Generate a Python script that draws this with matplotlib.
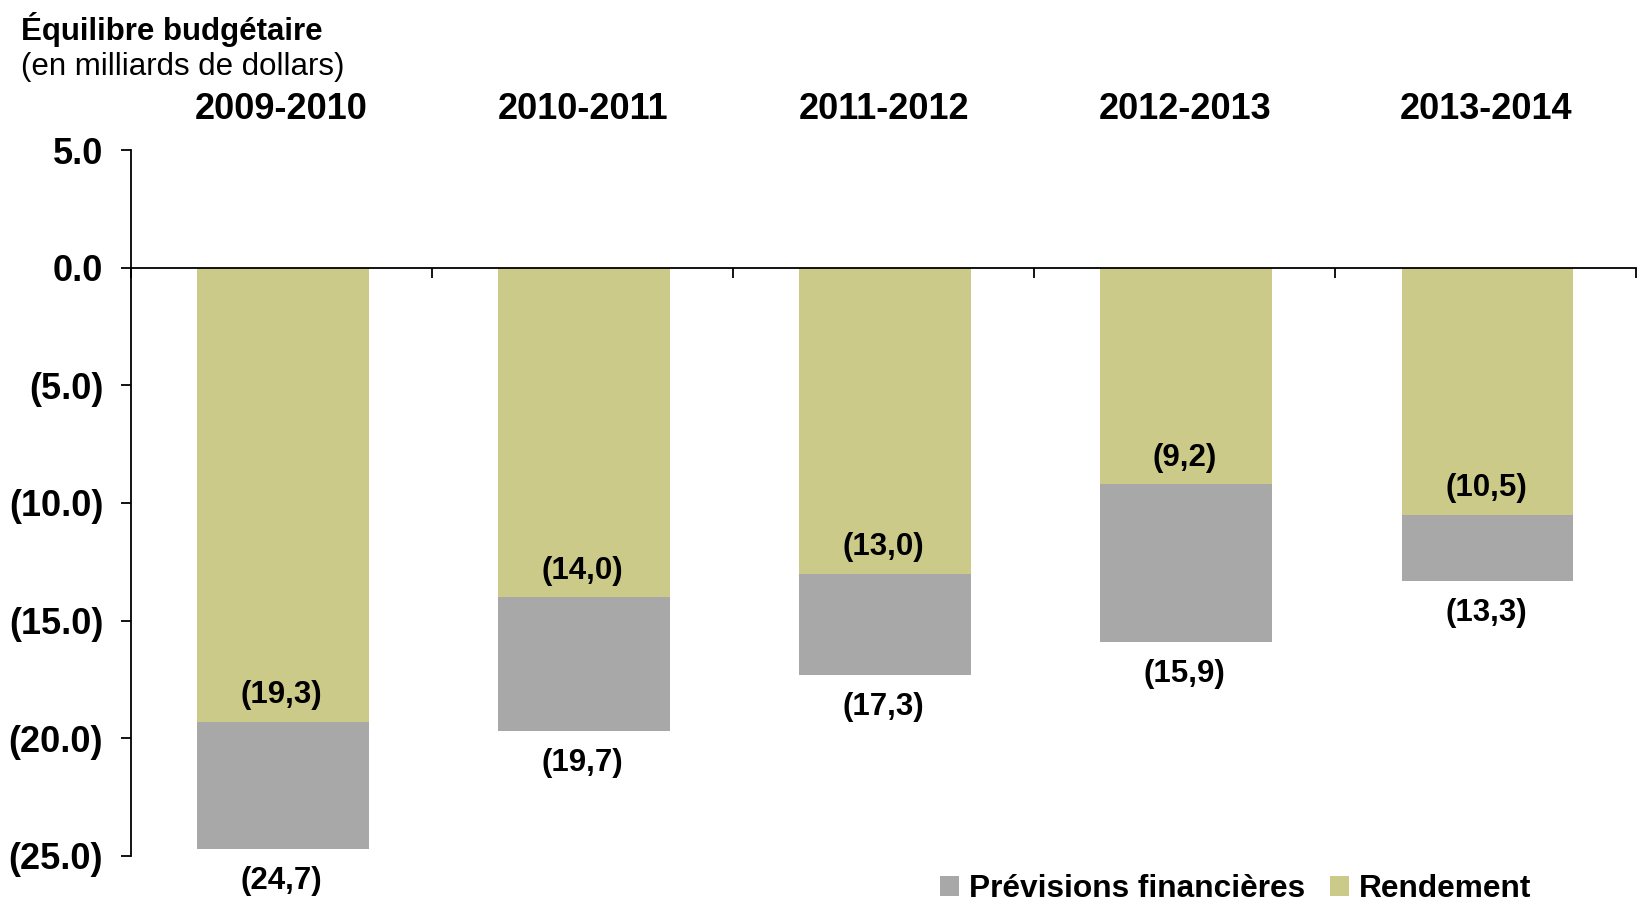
import matplotlib
matplotlib.use("Agg")
import matplotlib.pyplot as plt
from matplotlib.patches import Patch
import matplotlib.transforms as mtransforms

plt.rcParams['font.family'] = ['Liberation Sans', 'DejaVu Sans']

categories = ["2009-2010", "2010-2011", "2011-2012", "2012-2013", "2013-2014"]
rendement = [-19.3, -14.0, -13.0, -9.2, -10.5]
previsions = [-24.7, -19.7, -17.3, -15.9, -13.3]
rendement_labels = ["(19,3)", "(14,0)", "(13,0)", "(9,2)", "(10,5)"]
previsions_labels = ["(24,7)", "(19,7)", "(17,3)", "(15,9)", "(13,3)"]
yticks = [5.0, 0.0, -5.0, -10.0, -15.0, -20.0, -25.0]
ytick_labels = ["5.0", "0.0", "(5.0)", "(10.0)", "(15.0)", "(20.0)", "(25.0)"]

c_prev = "#A8A8A8"
c_rend = "#CCCA88"

fig = plt.figure(figsize=(16.43, 9.08), dpi=100)
ax = fig.add_axes([0.0797, 0.0573, 0.9163, 0.7775])

x = list(range(len(categories)))
w = 0.57
ax.bar([xi + 0.005 for xi in x], previsions, width=w, color=c_prev, zorder=2)
ax.bar([xi + 0.005 for xi in x], rendement, width=w, color=c_rend, zorder=3)

for xi, r, rl in zip(x, rendement, rendement_labels):
    ax.annotate(rl, (xi, r), xytext=(0, 19), textcoords="offset points",
                ha="center", va="center", fontsize=22.5, fontweight="bold", zorder=5)
for xi, p, pl in zip(x, previsions, previsions_labels):
    ax.annotate(pl, (xi, p), xytext=(0, -23), textcoords="offset points",
                ha="center", va="center", fontsize=22.5, fontweight="bold", zorder=5)

ax.set_xlim(-0.5, len(categories) - 0.5)
ax.set_ylim(-25, 5)
ax.set_yticks(yticks)
ax.set_yticklabels(ytick_labels, fontsize=26, fontweight="bold")
ax.tick_params(axis="y", direction="out", length=7, width=1.3, pad=13)

ax.set_xticks([i - 0.5 for i in range(len(categories) + 1)])
ax.set_xticklabels([])
ax.tick_params(axis="x", direction="out", length=7, width=1.3)

ax.spines["top"].set_visible(False)
ax.spines["right"].set_visible(False)
ax.spines["bottom"].set_position(("data", 0))
ax.spines["bottom"].set_linewidth(1.3)
ax.spines["left"].set_linewidth(1.3)
ax.spines["bottom"].set_zorder(4)

trans = mtransforms.blended_transform_factory(ax.transData, ax.transAxes)
for xi, c in zip(x, categories):
    ax.text(xi, 1.058, c, transform=trans, ha="center", va="center",
            fontsize=26, fontweight="bold")

fig.text(0.0128, 0.968, "Équilibre budgétaire", ha="left", va="center",
         fontsize=22.5, fontweight="bold")
fig.text(0.0128, 0.926, "(en milliards de dollars)", ha="left", va="center",
         fontsize=22.5)

handles = [Patch(facecolor=c_prev, label="Prévisions financières"),
           Patch(facecolor=c_rend, label="Rendement")]
fig.legend(handles=handles, loc="center right", bbox_to_anchor=(0.932, 0.021),
           ncol=2, frameon=False, prop={"size": 22.8, "weight": "bold"},
           handlelength=0.6, handleheight=0.6, handletextpad=0.3, columnspacing=0.8,
           borderpad=0, borderaxespad=0)

fig.savefig("out.png", dpi=100)
